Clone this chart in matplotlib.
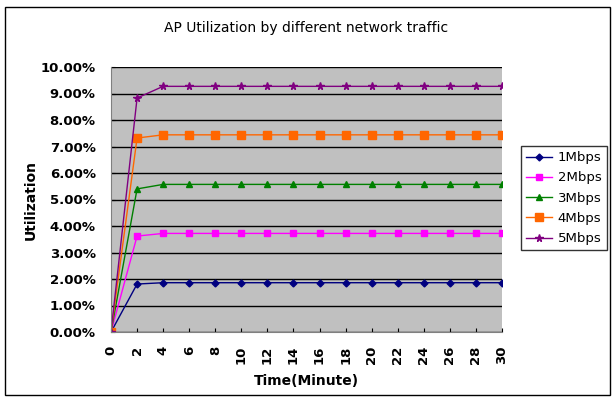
import matplotlib
matplotlib.use("Agg")
import matplotlib.pyplot as plt
from matplotlib.patches import Rectangle
from matplotlib.ticker import FuncFormatter

times = [0, 2, 4, 6, 8, 10, 12, 14, 16, 18, 20, 22, 24, 26, 28, 30]
series_names = ["1Mbps", "2Mbps", "3Mbps", "4Mbps", "5Mbps"]
s1 = [0.0, 1.81] + [1.86] * 14
s2 = [0.0, 3.62] + [3.72] * 14
s3 = [0.0, 5.40] + [5.57] * 14
s4 = [0.0, 7.32] + [7.44] * 14
s5 = [0.0, 8.83] + [9.27] * 14
values = [s1, s2, s3, s4, s5]
yticks = [0, 1, 2, 3, 4, 5, 6, 7, 8, 9, 10]

colors = ["#000080", "#FF00FF", "#008000", "#FF6600", "#800080"]
markers = ["D", "s", "^", "s", "*"]
msizes = [3.5, 4.5, 5, 5.5, 5.5]

fig = plt.figure(figsize=(6.14, 4.0), dpi=100)
fig.patches.append(Rectangle((0.008, 0.012), 0.986, 0.971, transform=fig.transFigure,
                             fill=False, edgecolor="black", linewidth=1.0))
ax = fig.add_axes([0.1808, 0.17, 0.6368, 0.6625])
ax.set_facecolor("#C0C0C0")

for name, vals, c, m, ms in zip(series_names, values, colors, markers, msizes):
    ax.plot(times, vals, color=c, marker=m, markersize=ms, linewidth=1.0,
            markeredgecolor=c, label=name)

ax.set_xlim(0, 30)
ax.set_ylim(0, 10)
ax.set_yticks(yticks)
ax.yaxis.set_major_formatter(FuncFormatter(lambda v, p: f"{v:.2f}%"))
ax.set_xticks(times)
ax.set_xticklabels([str(t) for t in times], rotation=90)
ax.grid(axis="y", color="black", linewidth=1.0)
ax.set_axisbelow(True)
for side in ["top", "right"]:
    ax.spines[side].set_visible(False)
ax.spines["left"].set_color("#808080")
ax.spines["bottom"].set_color("#808080")
ax.tick_params(axis="both", labelsize=9.5, direction="in", length=3)
ax.tick_params(axis="x", direction="in", pad=10)
ax.tick_params(axis="y", pad=11)
for lbl in ax.get_xticklabels() + ax.get_yticklabels():
    lbl.set_fontweight("semibold")

ax.set_title("AP Utilization by different network traffic", fontsize=10, pad=25)
ax.set_xlabel("Time(Minute)", fontsize=10, fontweight="semibold", labelpad=7)
ax.set_ylabel("Utilization", fontsize=10, fontweight="semibold", labelpad=2)

leg = ax.legend(loc="center left", bbox_to_anchor=(1.048, 0.505), frameon=True,
                fancybox=False, edgecolor="black", fontsize=9.5, handlelength=2.0,
                borderpad=0.4, labelspacing=0.55, handletextpad=0.4,
                borderaxespad=0.0)
leg.get_frame().set_linewidth(1.0)

fig.savefig("out.png", dpi=100)
